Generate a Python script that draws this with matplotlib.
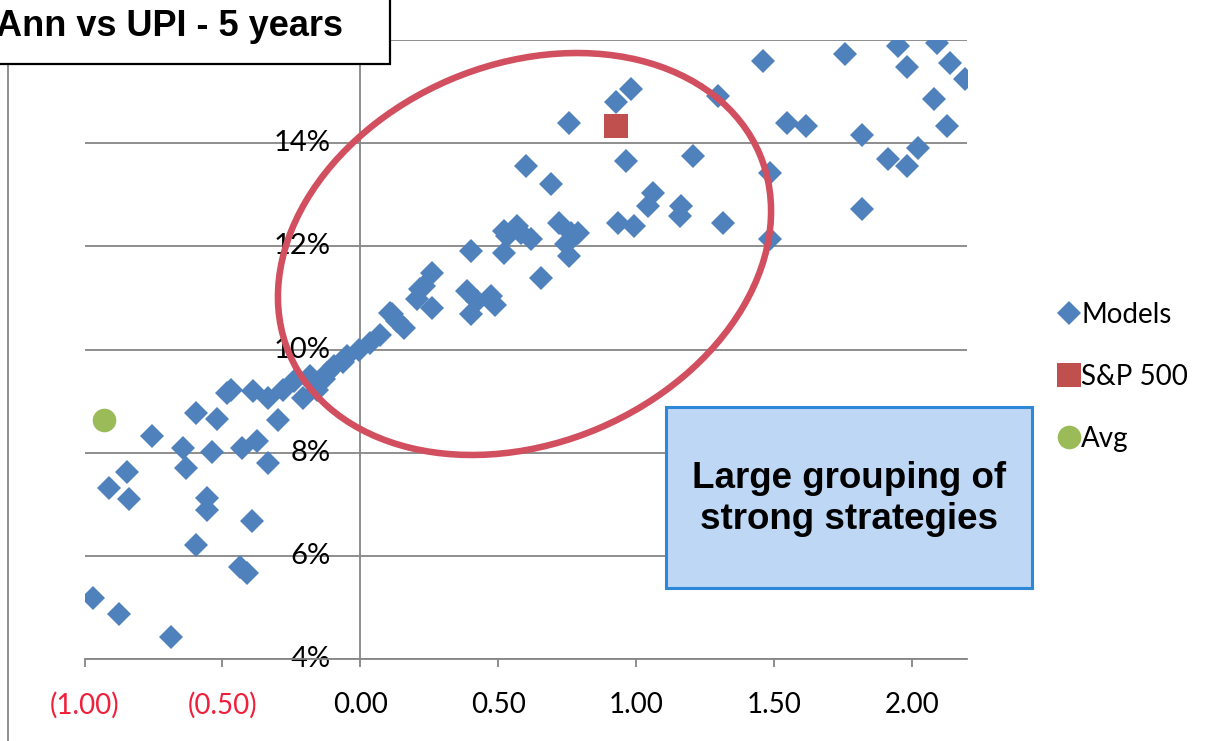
import matplotlib
matplotlib.use("Agg")
import matplotlib.pyplot as plt
from matplotlib.patches import Ellipse, Rectangle
from matplotlib.transforms import Affine2D
from matplotlib.ticker import FuncFormatter

# UPI (x) vs annualised return in % (y)
models_upi = [
    -0.97, -0.875, -0.687, -0.911, -0.846, -0.839, -0.754, -0.642, -0.633,
    -0.594, -0.521, -0.539, -0.557, -0.557, -0.594, -0.485, -0.467, -0.43,
    -0.376, -0.394, -0.436, -0.412, -0.333, -0.388, -0.333, -0.297, -0.279,
    -0.242, -0.206, -0.182, -0.17, -0.158, -0.133, -0.121, -0.097, -0.062,
    -0.048, -0.006, 0.036, 0.073, 0.115, 0.133, 0.158, 0.109,
    0.206, 0.218, 0.23, 0.261, 0.261, 0.4, 0.388, 0.4, 0.424, 0.473, 0.49,
    0.521, 0.521, 0.533, 0.57, 0.582, 0.618, 0.655, 0.6, 0.691, 0.758,
    0.721, 0.764, 0.745, 0.758, 0.79, 0.927, 0.982, 0.964, 0.933, 0.994,
    1.042, 1.06, 1.164, 1.158, 1.206, 1.315, 1.297, 1.46, 1.485, 1.485,
    1.548, 1.618, 1.758, 1.818, 1.818, 1.915, 1.982, 2.024, 1.951, 1.982,
    2.091, 2.139, 2.194, 2.079, 2.127,
]
models_ann = [
    5.18, 4.87, 4.43, 7.31, 7.62, 7.10, 8.32, 8.09, 7.70,
    8.77, 8.66, 8.01, 7.12, 6.89, 6.21, 9.16, 9.22, 8.09,
    8.22, 6.67, 5.79, 5.66, 7.80, 9.19, 9.06, 8.64, 9.22,
    9.39, 9.06, 9.48, 9.36, 9.22, 9.42, 9.55, 9.68, 9.75,
    9.87, 10.0, 10.13, 10.29, 10.68, 10.55, 10.42, 10.71,
    10.97, 11.17, 11.23, 11.48, 10.81, 11.91, 11.14, 10.68, 10.94, 11.04, 10.87,
    12.30, 11.87, 12.20, 12.40, 12.26, 12.14, 11.39, 13.56, 13.20, 14.40,
    12.46, 12.26, 12.04, 11.81, 12.26, 14.79, 15.05, 13.66, 12.46, 12.40,
    12.79, 13.04, 12.79, 12.59, 13.75, 12.46, 14.92, 15.60, 13.43, 12.14,
    14.40, 14.34, 15.73, 14.15, 12.72, 13.69, 13.56, 13.91, 15.89, 15.47,
    15.95, 15.56, 15.24, 14.85, 14.34,
]
sp500_upi = [0.927]
sp500_ann = [14.34]
avg_upi = [-0.93]
avg_ann = [8.63]

x_ticks = [-1.0, -0.5, 0.0, 0.5, 1.0, 1.5, 2.0]
y_ticks = [4, 6, 8, 10, 12, 14, 16]

title = "Ann vs UPI - 5 years"
note = "Large grouping of\nstrong strategies"

W, H = 1223, 741
fig = plt.figure(figsize=(W / 100, H / 100), dpi=100)
# pixel coordinates, origin top-left
px = Affine2D().scale(1 / 100, -1 / 100).translate(0, H / 100) + fig.dpi_scale_trans

ax = fig.add_axes([84.5 / W, 1 - 659 / H, (967 - 84.5) / W, (659 - 40) / H])
ax.set_xlim(-1.0, 2.2)
ax.set_ylim(4, 16)

grey = "#868686"
ax.spines["top"].set_visible(False)
ax.spines["right"].set_visible(False)
ax.spines["left"].set_position(("data", 0))
for s in ("left", "bottom"):
    ax.spines[s].set_color(grey)
    ax.spines[s].set_linewidth(1.3)

ax.set_yticks(y_ticks)
ax.set_xticks(x_ticks)
ax.yaxis.grid(True, color=grey, linewidth=1.3)
ax.set_axisbelow(True)

ax.yaxis.set_major_formatter(FuncFormatter(lambda v, p: "%d%%" % v))
ax.xaxis.set_major_formatter(FuncFormatter(
    lambda v, p: "(%.2f)" % abs(v) if v < 0 else "%.2f" % v))
ax.tick_params(axis="x", direction="out", length=6, width=1.3, color=grey,
               pad=18, labelsize=20)
ax.tick_params(axis="y", direction="out", length=0, pad=21, labelsize=21)
for lab in ax.get_xticklabels() + ax.get_yticklabels():
    lab.set_fontfamily("Lato")
for lab in ax.get_yticklabels():
    lab.set_verticalalignment("center")
for v, lab in zip(x_ticks, ax.get_xticklabels()):
    if v < 0:
        lab.set_color("#F0203C")

ax.plot(models_upi, models_ann, linestyle="none", marker="D", markersize=12.5,
        color="#4F81BD", markeredgewidth=0, label="Models", zorder=3)
ax.plot(sp500_upi, sp500_ann, linestyle="none", marker="s", markersize=17,
        color="#C0504D", markeredgewidth=0, label="S&P 500", zorder=4)
ax.plot(avg_upi, avg_ann, linestyle="none", marker="o", markersize=17,
        color="#9BBB59", markeredgewidth=0, label="Avg", zorder=4)

leg = ax.legend(loc="upper left", bbox_to_anchor=(1046 / W, 1 - 288 / H),
                bbox_transform=fig.transFigure, frameon=False,
                handlelength=0.65, handletextpad=0.12, labelspacing=1.3,
                borderpad=0, prop={"family": "Lato", "size": 20})

# red ring around the cluster
fig.patches.append(Ellipse((524.5, 254), width=511, height=379, angle=-23,
                           fill=False, edgecolor="#D14F5E", linewidth=4.7,
                           transform=px, figure=fig, zorder=5))

# callout box
fig.patches.append(Rectangle((666, 407), 366, 181, facecolor="#BDD7F5",
                             edgecolor="#2E88D8", linewidth=2.2,
                             transform=px, figure=fig, zorder=5))
fig.text(849, 499, note, transform=px, ha="center", va="center",
         fontsize=26.5, fontweight="bold", family="Liberation Sans",
         linespacing=1.25, zorder=6)

# chart title box
fig.patches.append(Rectangle((-10, -10), 400, 74, facecolor="white",
                             edgecolor="black", linewidth=1.6,
                             transform=px, figure=fig, zorder=5))
fig.text(343, 26, title, transform=px, ha="right", va="center",
         fontsize=26, fontweight="bold", family="Liberation Sans", zorder=6)

# outer chart border on the left
fig.add_artist(plt.Line2D([8, 8], [64, H + 5], color=grey, linewidth=1.3,
                          transform=px))

fig.savefig("out.png", dpi=100)
